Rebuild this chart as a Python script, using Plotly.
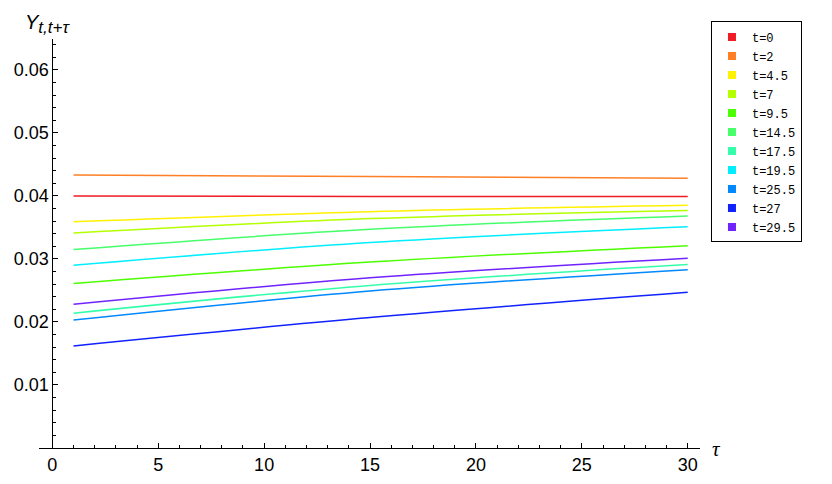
"""Yield curves Y(t, t+tau) for several start times t."""
import plotly.graph_objects as go

tau = [1, 15, 30]

t_labels = ["t=0", "t=2", "t=4.5", "t=7", "t=9.5", "t=14.5",
            "t=17.5", "t=19.5", "t=25.5", "t=27", "t=29.5"]

y_t0 = [0.0400, 0.0399, 0.0399]
y_t2 = [0.0433, 0.0431, 0.0428]
y_t4_5 = [0.0359, 0.0375, 0.0385]
y_t7 = [0.0341, 0.0364, 0.0377]
y_t9_5 = [0.0261, 0.0295, 0.0321]
y_t14_5 = [0.0315, 0.0347, 0.0368]
y_t17_5 = [0.0214, 0.0258, 0.0291]
y_t19_5 = [0.0290, 0.0326, 0.0351]
y_t25_5 = [0.0203, 0.0249, 0.0283]
y_t27 = [0.0162, 0.0207, 0.0247]
y_t29_5 = [0.0228, 0.0270, 0.0301]

series = [y_t0, y_t2, y_t4_5, y_t7, y_t9_5, y_t14_5,
          y_t17_5, y_t19_5, y_t25_5, y_t27, y_t29_5]

colors = ["#ee1c25", "#ff7f27", "#fff200", "#b4ff00", "#4cff00", "#46ff6a",
          "#33ffaa", "#00eeff", "#0088ff", "#1122ff", "#7022ff"]

fig = go.Figure()

for name, ys, col in zip(t_labels, series, colors):
    fig.add_trace(go.Scatter(
        x=tau, y=ys, mode="lines", line=dict(color=col, width=1.5, shape="spline"),
        showlegend=False, hoverinfo="skip",
    ))
    # square swatch for the legend only
    fig.add_trace(go.Scatter(
        x=[None], y=[None], mode="markers", name=name,
        marker=dict(symbol="square", size=8, color=col),
    ))

x_range = [-0.63, 30.58]
y_range = [0, 0.0649]

# the page body adds an 8px offset, so margins are shifted to compensate
fig.update_layout(
    width=832, height=484,
    margin=dict(l=31, r=140, t=31, b=44, autoexpand=False),
    plot_bgcolor="white", paper_bgcolor="white",
    font=dict(family="Liberation Sans, Arial, sans-serif", size=18, color="black"),
    xaxis=dict(
        range=x_range, showgrid=False, zeroline=False, automargin=False,
        showline=True, linecolor="black", linewidth=1,
        ticks="inside", ticklen=5, tickcolor="black", tickwidth=1,
        tick0=0, dtick=5,
        minor=dict(dtick=1, ticks="inside", ticklen=3, tickcolor="black"),
    ),
    yaxis=dict(
        range=y_range, showgrid=False, zeroline=False, automargin=False,
        anchor="free", position=0.63 / (x_range[1] - x_range[0]),
        showline=True, linecolor="black", linewidth=1,
        ticks="inside", ticklen=5, tickcolor="black", tickwidth=1,
        tickvals=[0.01, 0.02, 0.03, 0.04, 0.05, 0.06],
        ticktext=["0.01", "0.02", "0.03", "0.04", "0.05", "0.06"],
        minor=dict(dtick=0.002, ticks="inside", ticklen=3, tickcolor="black"),
    ),
    legend=dict(
        x=1.0166, y=1.043, xanchor="left", yanchor="top",
        bordercolor="black", borderwidth=1, bgcolor="white",
        font=dict(family="Liberation Mono, Courier New, monospace", size=12),
        itemsizing="trace", tracegroupgap=0,
    ),
    annotations=[
        dict(text="<i>Y</i><sub><i><span style='font-size:17px'>t,t+τ</span></i></sub>",
             xref="paper", yref="paper",
             x=-0.0242, y=1.074, xanchor="left", yanchor="top", showarrow=False,
             font=dict(family="Liberation Sans, Arial, sans-serif", size=20)),
        dict(text="<i>τ</i>", xref="paper", yref="paper",
             x=1.0257, y=-0.002, xanchor="center", yanchor="middle", showarrow=False,
             font=dict(family="Liberation Serif, Times New Roman, serif", size=21)),
    ],
)

fig.write_html("out.html")
